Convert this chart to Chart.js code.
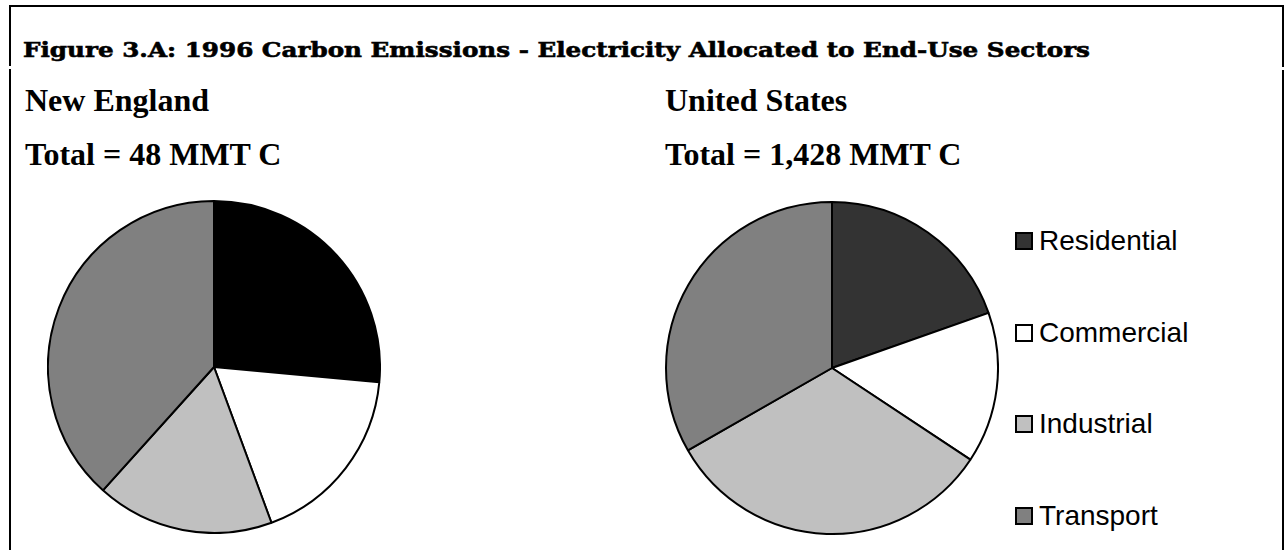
<!DOCTYPE html>
<html>
<head>
<meta charset="utf-8">
<script src="https://cdn.jsdelivr.net/npm/chart.js@4.4.1/dist/chart.umd.min.js"></script>
<style>
  body { margin: 0; background: #fff; }
  #page { position: relative; width: 1286px; height: 550px; overflow: hidden; background: #fff; }
  .rule { position: absolute; background: #000; }
  .txt { position: absolute; white-space: nowrap; color: #000; }
  .title { font-family: "DejaVu Serif", serif; font-weight: bold; font-size: 21px; line-height: 21px;
           -webkit-text-stroke: 0.6px #000; transform-origin: 0 50%; }
  .head { font-family: "Liberation Serif", "Times New Roman", serif; font-weight: bold; font-size: 32px; line-height: 32px; }
  canvas { position: absolute; }
  #legend { position: absolute; left: 1015px; top: 0; }
  .item { position: absolute; left: 0; height: 30px; display: flex; align-items: center;
          font-family: "Liberation Sans", Arial, sans-serif; font-size: 28px; white-space: nowrap; }
  .box { width: 18px; height: 18px; border: 2px solid #000; box-sizing: border-box; margin-right: 6px; }
</style>
</head>
<body>
<div id="page">
  <div class="rule" style="left:9px;top:5px;width:1275px;height:2px"></div>
  <div class="rule" style="left:9px;top:5px;width:2px;height:61px"></div>
  <div class="rule" style="left:9px;top:69px;width:2px;height:481px"></div>
  <div class="rule" style="left:1282px;top:5px;width:2px;height:62px"></div>
  <div class="rule" style="left:1282px;top:70px;width:2px;height:480px"></div>

  <div id="title" class="txt title" style="left:23px;top:39px">Figure 3.A: 1996 Carbon Emissions - Electricity Allocated to End-Use Sectors</div>
  <div class="txt head" style="left:25px;top:84px">New England</div>
  <div class="txt head" style="left:25px;top:138px">Total = 48 MMT C</div>
  <div class="txt head" style="left:665px;top:84px">United States</div>
  <div class="txt head" style="left:665px;top:138px">Total = 1,428 MMT C</div>

  <canvas id="pieNE" width="334" height="334" style="left:47px;top:200px"></canvas>
  <canvas id="pieUS" width="334" height="334" style="left:665px;top:201px"></canvas>
  <div id="legend"></div>
</div>
<script>
// 1996 carbon emissions by end-use sector, MMT C (electricity allocated)
const sectors = ['Residential', 'Commercial', 'Industrial', 'Transport'];
const newEngland = [12.7, 8.6, 8.3, 18.4];
const unitedStates = [280, 210, 463, 475];

const neColors = ['#000000', '#ffffff', '#c0c0c0', '#808080'];
const usColors = ['#333333', '#ffffff', '#c0c0c0', '#808080'];

function makePie(id, values, colors) {
    return new Chart(document.getElementById(id), {
        type: 'pie',
        data: {
            labels: sectors,
            datasets: [{
                data: values,
                backgroundColor: colors,
                borderColor: '#000',
                borderWidth: 2,
            }],
        },
        options: {
            responsive: false,
            animation: false,
            layout: { padding: 0 },
            plugins: {
                legend: { display: false },
                tooltip: { enabled: false },
            },
        },
    });
}

makePie('pieNE', newEngland, neColors);
const usChart = makePie('pieUS', unitedStates, usColors);

// the original title face is a wide heavy serif, stretch ours to the same run length
let title = document.getElementById('title');
let tw = title.getBoundingClientRect().width;
title.style.transform = 'scaleX(' + (1067 / tw) + ')';

// legend for the right pie, one row per sector
const legend = document.getElementById('legend');
const rowCenters = [241, 333, 424, 516];
sectors.forEach(function(name, i) {
    let row = document.createElement('div');
    row.className = 'item';
    row.style.top = (rowCenters[i] - 15) + 'px';
    let box = document.createElement('span');
    box.className = 'box';
    box.style.background = usChart.data.datasets[0].backgroundColor[i];
    row.appendChild(box);
    row.appendChild(document.createTextNode(name));
    legend.appendChild(row);
});
</script>
</body>
</html>
